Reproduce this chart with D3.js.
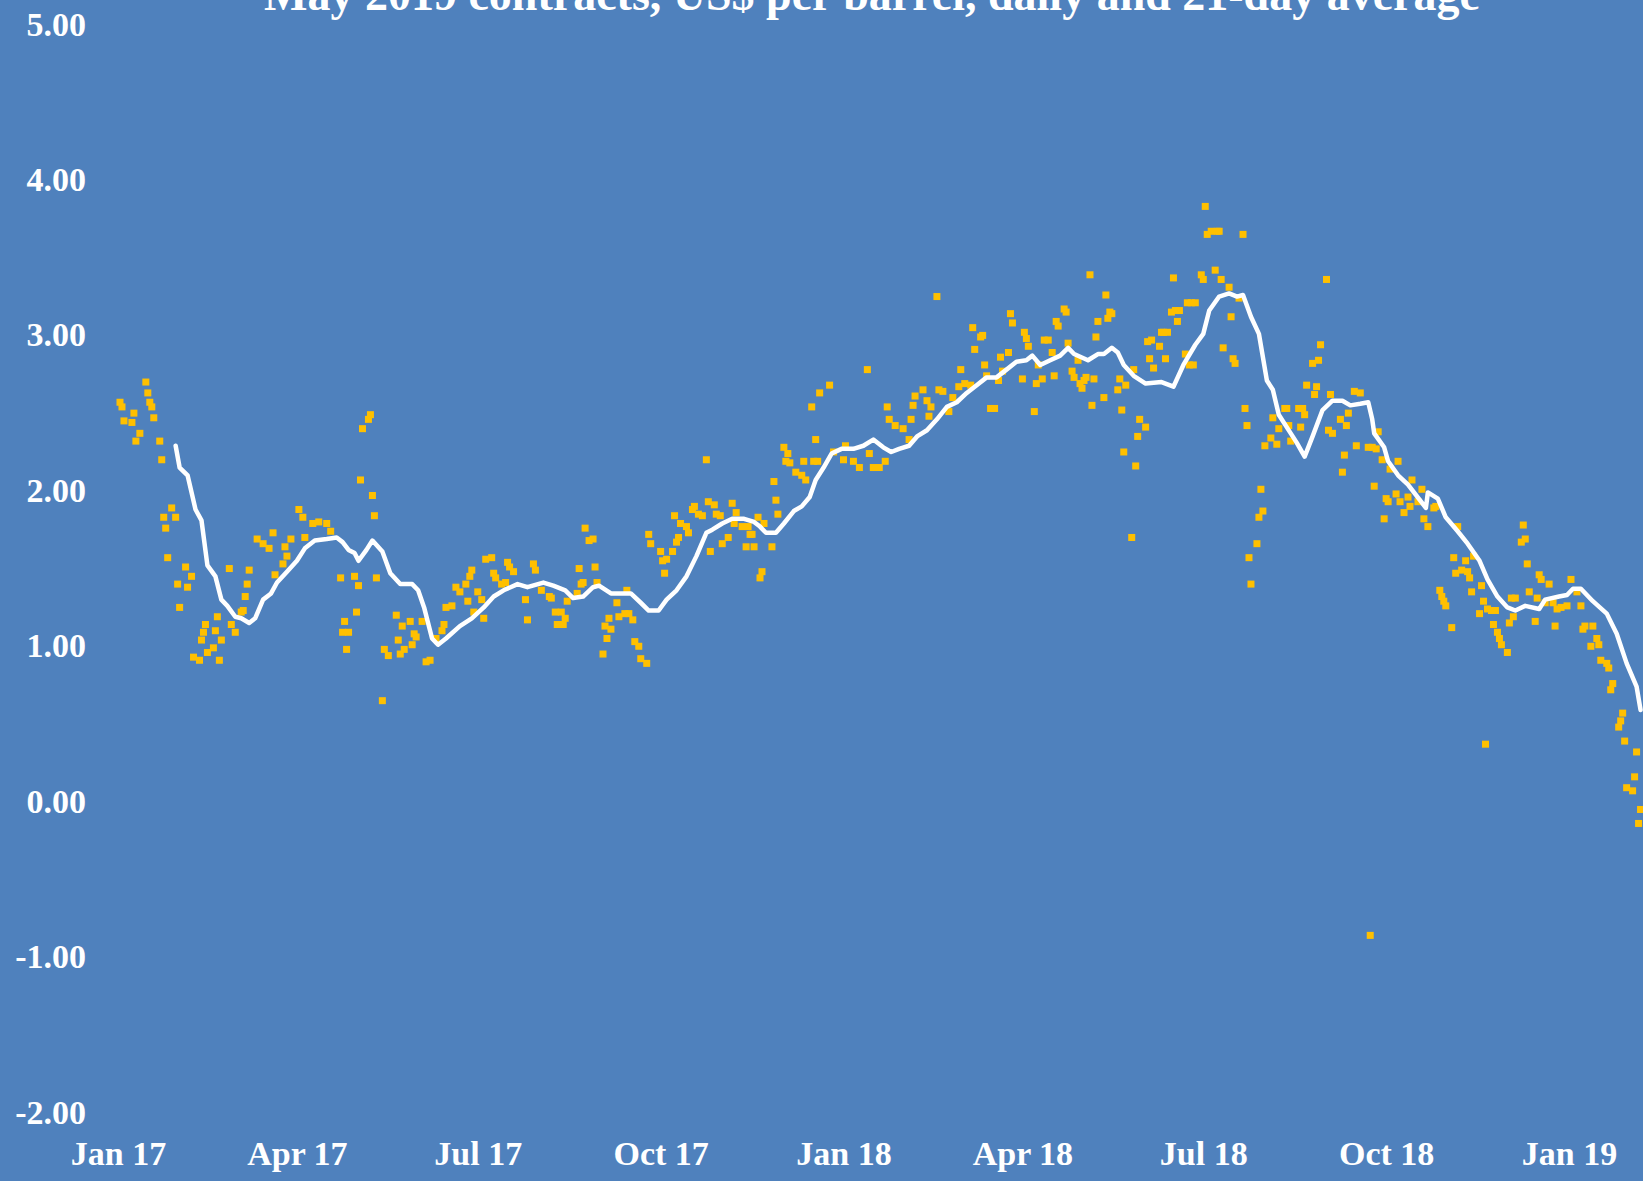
<!DOCTYPE html>
<html><head><meta charset="utf-8">
<script src="https://cdn.jsdelivr.net/npm/d3@7"></script>
<style>html,body{margin:0;padding:0;background:#4F81BD;overflow:hidden}svg{display:block}</style>
</head><body><svg id="c" width="1643" height="1181"></svg>
<script>
const title = "May 2019 contracts, US$ per barrel, daily and 21-day average";
const yTicks = [5, 4, 3, 2, 1, 0, -1, -2];
const xTickLabels = ["Jan 17","Apr 17","Jul 17","Oct 17","Jan 18","Apr 18","Jul 18","Oct 18","Jan 19"];
const xTickDates = ["2017-01-01","2017-04-01","2017-07-01","2017-10-01","2018-01-01","2018-04-01","2018-07-01","2018-10-01","2019-01-01"];
// daily prices: [days since 2017-01-01, US$ per barrel]
const dailyPrices = [
[1,2.56],[2,2.53],[3,2.44],[7,2.43],[8,2.49],[9,2.31],[11,2.36],[14,2.69],[15,2.62],[16,2.56],[17,2.53],[18,2.46],[21,2.31],[22,2.19],[23,1.82],[24,1.75],[25,1.56],[27,1.88],[29,1.82],[30,1.39],[31,1.24],[34,1.50],[35,1.37],[37,1.44],[38,0.92],[41,0.90],[42,1.03],[43,1.08],[44,1.13],[45,0.95],[48,0.98],[49,1.09],[50,1.18],[51,0.90],[52,1.03],[56,1.49],[57,1.13],[59,1.08],[62,1.21],[63,1.22],[64,1.31],[65,1.39],[66,1.48],[70,1.68],[73,1.65],[76,1.62],[78,1.72],[79,1.45],[83,1.52],[84,1.63],[85,1.57],[87,1.68],[91,1.87],[93,1.82],[94,1.69],[98,1.78],[101,1.79],[105,1.78],[107,1.73],[112,1.43],[113,1.08],[114,1.15],[115,0.97],[116,1.08],[119,1.44],[120,1.21],[121,1.38],[122,2.06],[123,2.39],[126,2.45],[127,2.48],[128,1.96],[129,1.83],[130,1.43],[133,0.64],[134,0.97],[136,0.93],[140,1.19],[141,1.03],[142,0.94],[143,1.12],[144,0.97],[147,1.15],[148,1.00],[149,1.07],[150,1.05],[153,1.15],[155,0.89],
[157,0.90],[160,1.04],[163,1.09],[164,1.13],[165,1.24],[168,1.25],[170,1.37],[172,1.34],[175,1.39],[176,1.28],[177,1.44],[178,1.48],[179,1.21],[181,1.34],[183,1.29],[184,1.17],[185,1.55],[188,1.56],[189,1.46],[190,1.43],[193,1.39],[195,1.40],[196,1.53],[197,1.50],[199,1.47],[205,1.29],[206,1.16],[209,1.52],[210,1.48],[213,1.35],[217,1.31],[218,1.30],[220,1.21],[221,1.13],[223,1.21],[224,1.13],[225,1.17],[226,1.28],[231,1.33],[232,1.49],[233,1.39],[234,1.40],[235,1.75],[237,1.67],[239,1.68],[240,1.50],[241,1.40],[244,0.94],[245,1.12],[246,1.04],[247,1.17],[248,1.10],[251,1.27],[252,1.18],[255,1.20],[256,1.35],[257,1.20],[259,1.16],[260,1.02],[262,0.99],[263,0.91],[266,0.88],[267,1.71],[268,1.65],[273,1.60],[274,1.54],[275,1.46],[276,1.55],[279,1.60],[280,1.83],[281,1.66],[282,1.69],[283,1.78],[286,1.76],[287,1.72],[289,1.87],[290,1.89],[292,1.84],[294,1.83],[296,2.19],[297,1.92],[298,1.60],[300,1.90],[301,1.84],[303,1.83],[304,1.65],[307,1.69],[309,1.91],[310,1.78],[311,1.85],[314,1.76],[316,1.63],[318,1.71],
[317,1.76],[319,1.71],[320,1.63],[322,1.82],[323,1.43],[324,1.47],[325,1.78],[329,1.63],[330,2.05],[331,1.93],[332,1.84],[335,2.27],[336,2.18],[337,2.23],[338,2.17],[341,2.11],[344,2.09],[345,2.18],[346,2.06],[349,2.53],[350,2.18],[351,2.32],[352,2.18],[353,2.62],[358,2.67],[360,2.24],[365,2.19],[366,2.28],[370,2.18],[373,2.14],[377,2.77],[378,2.23],[380,2.14],[383,2.14],[386,2.18],[387,2.53],[388,2.45],[391,2.41],[395,2.39],[398,2.32],[399,2.45],[400,2.54],[401,2.60],[405,2.64],[407,2.57],[408,2.47],[409,2.53],[412,3.24],[413,2.64],[415,2.63],[418,2.50],[420,2.59],[423,2.66],[424,2.77],[426,2.68],[429,2.67],[430,3.04],[431,2.90],[434,2.98],[435,2.99],[436,2.80],[437,2.73],[439,2.52],[441,2.52],[443,2.70],[444,2.85],[445,2.76],[448,2.88],[449,3.13],[450,3.07],[455,2.71],[456,3.01],[457,2.97],[458,2.92],[461,2.50],[462,2.68],[463,2.80],[465,2.71],[466,2.96],[468,2.96],[470,2.88],[471,2.73],[472,3.08],[473,3.05],[476,3.16],[477,3.14],[478,2.94],
[480,2.76],[481,2.72],[483,2.83],[484,2.68],[485,2.65],[486,2.70],[487,2.72],[489,3.38],[490,2.54],[491,2.71],[492,2.98],[493,3.08],[496,2.59],[497,3.25],[498,3.10],[499,3.14],[500,3.13],[503,2.64],[504,2.71],[505,2.51],[506,2.24],[507,2.67],[510,1.69],[511,2.77],[512,2.15],[513,2.34],[514,2.45],[517,2.40],[518,2.95],[519,2.84],[520,2.96],[521,2.78],[524,2.92],[525,3.01],[526,3.01],[527,2.84],[528,3.01],[530,3.14],[531,3.36],[532,3.15],[533,3.08],[534,3.15],[537,2.87],[538,3.20],[539,2.80],[540,3.20],[541,2.80],[542,3.20],[545,3.38],[546,3.35],[547,3.82],[548,3.64],[550,3.66],[552,3.41],[553,3.66],[554,3.66],[555,3.35],[556,2.91],[559,3.30],[560,3.11],[561,2.84],[562,2.81],[564,3.23],[566,3.64],[567,2.52],[568,2.41],[569,1.56],[570,1.39],[573,1.65],[574,1.82],[575,2.00],[576,1.86],[577,2.28],[580,2.33],[581,2.46],[583,2.29],[584,2.39],[587,2.52],[588,2.52],[589,2.41],[590,2.31],[594,2.52],[595,2.40],[596,2.52],[597,2.48],[598,2.67],[601,2.81],[602,2.61],[603,2.66],[604,2.83],[605,2.93],[608,3.35],[609,2.38],[610,2.61],[611,2.36],[615,2.45],[616,2.11],[617,2.22],[618,2.41],[619,2.49],[622,2.63],[623,2.28],[625,2.62],[629,2.27],[630,-0.87],[631,2.27],[632,2.02],[633,2.26],[634,2.37],[636,2.19],[637,1.81],[638,1.94],[639,1.92],[640,2.13],[643,1.97],[644,2.18],
[645,1.92],[647,1.85],[649,1.95],[650,1.89],[651,2.06],[654,1.92],[656,2.00],[657,1.81],[659,1.76],[662,1.88],[663,1.89],[665,1.35],[666,1.31],[667,1.28],[668,1.25],[671,1.11],[672,1.56],[673,1.46],[674,1.76],[676,1.48],[678,1.54],[679,1.47],[680,1.43],[681,1.34],[682,1.57],[685,1.20],[686,1.38],[687,1.28],[688,0.36],[689,1.23],[691,1.22],[692,1.13],[693,1.22],[694,1.08],[695,1.04],[696,1.00],[699,0.95],[700,1.14],[701,1.30],[702,1.18],[703,1.30],[706,1.66],[707,1.77],[708,1.68],[709,1.52],[710,1.34],[713,1.15],[714,1.30],[715,1.45],[716,1.42],[718,1.27],[720,1.39],[722,1.27],[723,1.12],[724,1.23],[726,1.24],[729,1.25],[731,1.42],[734,1.34],[736,1.25],[737,1.10],[738,1.12],[741,0.99],[742,1.12],[744,1.04],[745,1.00],[746,0.90],[749,0.88],[750,0.85],[751,0.71],[752,0.75],[755,0.47],[756,0.51],[757,0.56],[758,0.38],[759,0.08],[762,0.06],[763,0.15],[764,0.31],[765,-0.15],[766,-0.06]
];
// 21-day average: [days since 2017-01-01, US$ per barrel]
const average21 = [
[29,2.28],[31,2.14],[35,2.09],[39,1.87],[42,1.80],[45,1.51],[49,1.44],[52,1.29],[55,1.25],[59,1.18],[62,1.17],[66,1.14],[69,1.17],[73,1.29],[77,1.33],[80,1.40],[85,1.47],[90,1.54],[94,1.62],[99,1.67],[105,1.68],[110,1.69],[113,1.66],[116,1.61],[119,1.59],[121,1.54],[125,1.61],[128,1.67],[133,1.60],[137,1.46],[142,1.39],[148,1.39],[151,1.35],[154,1.24],[158,1.04],[161,1.00],[165,1.04],[172,1.12],[178,1.17],[184,1.24],[189,1.31],[194,1.35],[201,1.39],[206,1.37],[214,1.40],[219,1.38],[225,1.35],[229,1.30],[234,1.31],[239,1.37],[242,1.38],[248,1.33],[253,1.33],[258,1.33],[263,1.27],[267,1.22],[272,1.22],[276,1.29],[281,1.35],[286,1.44],[291,1.57],[296,1.72],[299,1.74],[304,1.78],[309,1.81],[315,1.81],[320,1.79],[323,1.76],[326,1.72],[331,1.72],[335,1.78],[340,1.86],[344,1.89],[348,1.95],[351,2.06],[355,2.14],[359,2.23],[364,2.26],[370,2.26],[375,2.28],[380,2.32],[385,2.27],[389,2.24],[393,2.26],[398,2.28],[402,2.34],[407,2.38],[412,2.45],[417,2.53],[422,2.56],[427,2.62],[432,2.67],[437,2.72],[442,2.72],[447,2.77],[452,2.82],[457,2.83],[460,2.86],[464,2.80],[469,2.83],[474,2.86],[478,2.91],[481,2.87],[488,2.83],[493,2.87],[496,2.87],[500,2.91],[503,2.88],[506,2.80],[511,2.73],[517,2.68],[525,2.69],[531,2.66],[536,2.80],[542,2.93],[546,3.00],[549,3.15],[554,3.24],[559,3.26],[563,3.24],[566,3.25],[570,3.11],[574,3.00],[578,2.70],[581,2.64],[584,2.48],[588,2.40],[593,2.30],[597,2.21],[601,2.34],[606,2.51],[611,2.57],[616,2.57],[620,2.54],[625,2.55],[629,2.56],[631,2.45],[632,2.36],[637,2.27],[639,2.18],[644,2.09],[649,2.03],[655,1.93],[658,1.88],[659,1.98],[664,1.94],[668,1.82],[674,1.73],[679,1.65],[685,1.54],[689,1.42],[694,1.31],[699,1.24],[703,1.22],[708,1.25],[715,1.23],[718,1.29],[725,1.31],[729,1.32],[732,1.36],[736,1.36],[742,1.28],[749,1.20],[754,1.07],[759,0.88],[764,0.73],[766,0.58]
];

const W = 1643, H = 1181;
const base = Date.UTC(2017, 0, 1);
const toDate = d => d3.utcDay.offset(new Date(base), d);
const parse = d3.utcParse("%Y-%m-%d");

const x = d3.scaleUtc().domain([parse("2017-01-01"), parse("2019-01-01")]).range([118, 1569]);
const y = d3.scaleLinear().domain([-2, 5]).range([1111, 23]);

const svg = d3.select("#c");
svg.append("rect").attr("width", W).attr("height", H).attr("fill", "#4F81BD");

const font = "'Liberation Serif','Times New Roman',serif";
const fmt = d3.formatLocale({decimal: ".", thousands: ",", grouping: [3], currency: ["$", ""], minus: "-"}).format(".2f");

// title (partly cropped at top, as in the original)
svg.append("text").attr("x", 872).attr("y", 10).attr("text-anchor", "middle")
  .attr("font-family", font).attr("font-weight", "bold").attr("font-size", 46)
  .attr("fill", "#fff").text(title);

// y axis labels
const yAxis = d3.axisLeft(y).tickValues(yTicks).tickFormat(fmt).tickSize(0).tickPadding(0);
const gy = svg.append("g").attr("transform", "translate(86,0)").call(yAxis);
gy.select(".domain").remove();
gy.selectAll("text").attr("font-family", font).attr("font-weight", "bold").attr("font-size", 34)
  .attr("fill", "#fff").attr("dy", null).attr("y", 12).attr("x", 0);

// x axis labels
const xAxis = d3.axisBottom(x).tickValues(xTickDates.map(parse))
  .tickFormat((d, i) => xTickLabels[i]).tickSize(0).tickPadding(0);
const gx = svg.append("g").attr("transform", "translate(0,1165)").call(xAxis);
gx.select(".domain").remove();
gx.selectAll("text").attr("font-family", font).attr("font-weight", "bold").attr("font-size", 34)
  .attr("fill", "#fff").attr("dy", null).attr("y", 0);

// daily points
const s = 7;
svg.append("g").selectAll("rect").data(dailyPrices).join("rect")
  .attr("x", d => x(toDate(d[0])) - s / 2)
  .attr("y", d => y(d[1]) - s / 2)
  .attr("width", s).attr("height", s)
  .attr("fill", "#FFC000");

// 21-day average
const line = d3.line().x(d => x(toDate(d[0]))).y(d => y(d[1]));
svg.append("path").datum(average21).attr("d", line)
  .attr("fill", "none").attr("stroke", "#fff").attr("stroke-width", 4.5)
  .attr("stroke-linejoin", "round").attr("stroke-linecap", "round");
</script>
</body></html>
